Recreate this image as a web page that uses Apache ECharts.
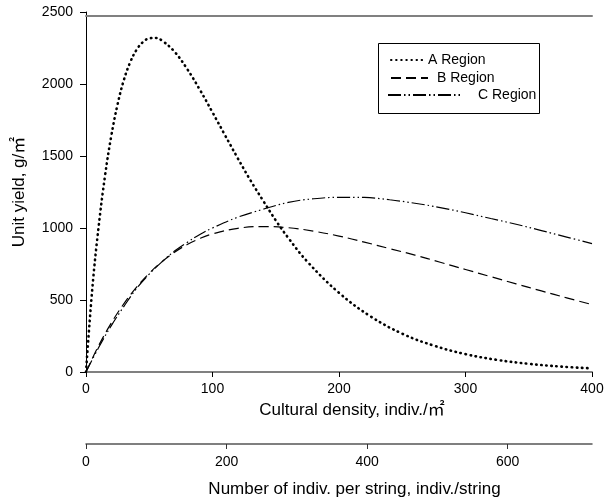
<!DOCTYPE html>
<html>
<head>
<meta charset="utf-8">
<script src="https://cdn.jsdelivr.net/npm/echarts@6/dist/echarts.min.js"></script>
<style>
  html, body { margin: 0; padding: 0; background: #fff; }
  #chart { width: 610px; height: 499px; }
</style>
</head>
<body>
<div id="chart"></div>
<script>
// Cultural density (indiv./m2) sample points and unit yield (g/m2) per region
const densityA = [0, 5, 10, 15, 20, 25, 30, 35, 40, 45, 50, 55, 60, 70, 80, 90, 100, 110, 120, 130, 140, 150, 160, 175, 200, 225, 250, 275, 300, 325, 350, 375, 400];
const yieldA   = [0, 580, 1010, 1360, 1640, 1860, 2030, 2152, 2238, 2291, 2317, 2320, 2302, 2224, 2104, 1960, 1803, 1643, 1484, 1331, 1190, 1053, 930, 766, 550, 386, 266, 183, 124, 84, 57, 38, 25];

const densityBC = [0, 10, 20, 30, 40, 50, 60, 70, 80, 90, 100, 120, 140, 160, 180, 200, 220, 240, 260, 280, 300, 320, 340, 360, 380, 400];
const yieldB    = [0, 183, 340, 475, 589, 686, 766, 832, 885, 927, 959, 998, 1010, 1002, 978, 944, 902, 857, 812, 762, 712, 662, 612, 563, 515, 468];
const yieldC    = [0, 170, 322, 456, 580, 680, 765, 840, 900, 955, 1000, 1075, 1130, 1178, 1203, 1213, 1212, 1196, 1172, 1142, 1106, 1066, 1026, 982, 937, 892];

const seriesNames = ['A Region', 'B Region', 'C Region'];

// Tick settings
const yTicks = { min: 0, max: 2500, interval: 500 };
const xTicks = { min: 0, max: 400, interval: 100 };
const stringTicks = { min: 0, max: 720, interval: 200 };

const zip = (xs, ys) => xs.map((x, i) => [x, ys[i]]);

const FONT = 'Liberation Sans, Arial, Noto Sans CJK SC, sans-serif';
const txt = { color: '#000', fontFamily: FONT, fontSize: 14 };
const titleTxt = { color: '#000', fontFamily: FONT, fontSize: 17 };
const plain = v => String(v);

const chart = echarts.init(document.getElementById('chart'), null, { renderer: 'canvas' });

// One legend block per entry so each key can have its own length and text offset
function legendEntry(name, left, top, itemWidth, textPad) {
  return {
    data: [name],
    left: left, top: top,
    orient: 'horizontal',
    itemWidth: itemWidth, itemHeight: 10,
    itemStyle: { opacity: 0 },
    textStyle: Object.assign({}, txt, { padding: [0, 0, 0, textPad] }),
    selectedMode: false
  };
}

chart.setOption({
  animation: false,
  backgroundColor: '#fff',
  grid: { left: 86, right: 18, top: 12, bottom: 127, containLabel: false, outerBoundsMode: 'none' },
  legend: [
    legendEntry(seriesNames[0], 385, 48, 32, 0),
    legendEntry(seriesNames[1], 385, 66, 37, 4),
    legendEntry(seriesNames[2], 382, 83, 73, 12)
  ],
  graphic: [
    {
      type: 'rect',
      left: 376, top: 41,
      shape: { width: 161, height: 70 },
      style: { fill: 'none', stroke: '#000', lineWidth: 1 },
      z: 1
    }
  ],
  xAxis: [
    {
      type: 'value', position: 'bottom',
      min: xTicks.min, max: xTicks.max, interval: xTicks.interval,
      name: 'Cultural density, indiv./㎡',
      nameLocation: 'middle', nameGap: 29.5,
      nameTextStyle: Object.assign({ padding: [0, 0, 0, 26] }, titleTxt),
      axisLine: { show: true, onZero: false, lineStyle: { color: '#808080', width: 2 } },
      axisTick: { show: true, inside: false, length: 5, lineStyle: { color: '#000', width: 1 } },
      axisLabel: Object.assign({ margin: 10, formatter: plain }, txt),
      splitLine: { show: false }
    },
    {
      type: 'value', position: 'bottom', offset: 72,
      min: stringTicks.min, max: stringTicks.max, interval: stringTicks.interval,
      name: 'Number of indiv. per string, indiv./string',
      nameLocation: 'middle', nameGap: 36.5,
      nameTextStyle: Object.assign({ padding: [0, 0, 0, 31] }, titleTxt),
      axisLine: { show: true, onZero: false, lineStyle: { color: '#555', width: 1.5 } },
      axisTick: { show: true, inside: false, length: 5, lineStyle: { color: '#333', width: 1 } },
      axisLabel: Object.assign({ margin: 11, showMaxLabel: false, formatter: plain }, txt),
      splitLine: { show: false }
    },
    {
      type: 'value', position: 'top', offset: -4,
      min: xTicks.min, max: xTicks.max,
      axisLine: { show: true, onZero: false, lineStyle: { color: '#808080', width: 2 } },
      axisTick: { show: false },
      axisLabel: { show: false },
      splitLine: { show: false }
    }
  ],
  yAxis: {
    type: 'value',
    min: yTicks.min, max: yTicks.max, interval: yTicks.interval,
    name: 'Unit yield, g/㎡',
    nameLocation: 'middle', nameGap: 58,
    nameTextStyle: titleTxt,
    axisLine: { show: true, onZero: false, lineStyle: { color: '#000', width: 1 } },
    axisTick: { show: true, inside: false, length: 6, lineStyle: { color: '#000', width: 1 } },
    axisLabel: Object.assign({ margin: 13, formatter: plain }, txt),
    splitLine: { show: false }
  },
  series: [
    {
      name: seriesNames[0], type: 'line', xAxisIndex: 0,
      data: zip(densityA, yieldA),
      smooth: 0.4, symbol: 'none',
      lineStyle: { color: '#000', width: 2.6, type: [0.5, 4.6], cap: 'round' },
      itemStyle: { color: '#000' }
    },
    {
      name: seriesNames[1], type: 'line', xAxisIndex: 0,
      data: zip(densityBC, yieldB),
      smooth: 0.4, symbol: 'none',
      lineStyle: { color: '#000', width: 1.2, type: [10, 5] },
      itemStyle: { color: '#000' }
    },
    {
      name: seriesNames[2], type: 'line', xAxisIndex: 0,
      data: zip(densityBC, yieldC),
      smooth: 0.4, symbol: 'none',
      lineStyle: { color: '#000', width: 1.2, type: [13, 3, 1.5, 3, 1.5, 3] },
      itemStyle: { color: '#000' }
    }
  ]
});
</script>
</body>
</html>
